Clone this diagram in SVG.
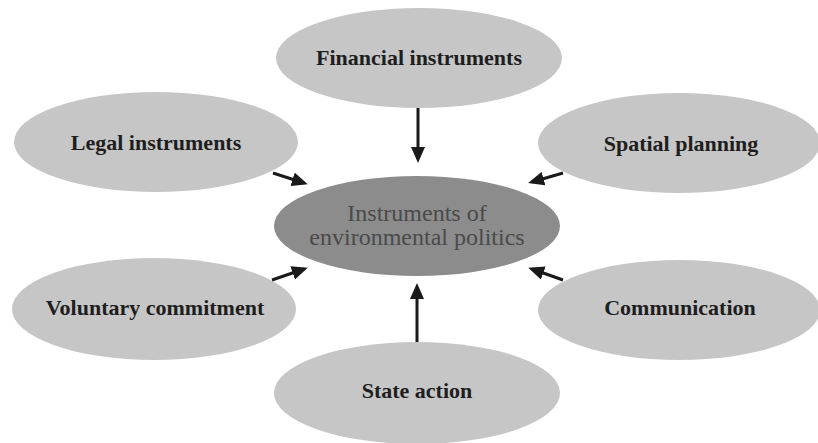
<svg xmlns="http://www.w3.org/2000/svg" width="818" height="443" viewBox="0 0 818 443">
  <style>
    .outer { fill: #c6c6c6; }
    .center { fill: #8c8c8c; }
    .lbl { font-family: "Liberation Serif", "Times New Roman", serif; font-size: 22px; font-weight: bold; fill: #1e1e1e; text-anchor: middle; }
    .clbl { font-family: "Liberation Serif", "Times New Roman", serif; font-size: 24px; fill: #4a4a4a; text-anchor: middle; }
    .conn { stroke: #1a1a1a; stroke-width: 3; fill: none; marker-end: url(#arr); }
  </style>
  <defs>
    <marker id="arr" markerUnits="userSpaceOnUse" markerWidth="16" markerHeight="14" refX="12" refY="7" orient="auto">
      <path d="M0,0 L16,7 L0,14 z" fill="#1a1a1a"/>
    </marker>
  </defs>
  <rect width="818" height="443" fill="#ffffff"/>

  <g id="financial">
    <ellipse class="outer" cx="419" cy="58" rx="143" ry="50"/>
    <text class="lbl" x="419" y="65">Financial instruments</text>
  </g>
  <g id="legal">
    <ellipse class="outer" cx="156" cy="142" rx="142" ry="50"/>
    <text class="lbl" x="156" y="150">Legal instruments</text>
  </g>
  <g id="spatial">
    <ellipse class="outer" cx="679" cy="143" rx="141" ry="50"/>
    <text class="lbl" x="681" y="151">Spatial planning</text>
  </g>
  <g id="center">
    <ellipse class="center" cx="417" cy="226" rx="143" ry="50"/>
    <text class="clbl" x="417" y="221">Instruments of</text>
    <text class="clbl" x="417" y="245">environmental politics</text>
  </g>
  <g id="voluntary">
    <ellipse class="outer" cx="154" cy="309" rx="142" ry="51"/>
    <text class="lbl" x="155" y="315">Voluntary commitment</text>
  </g>
  <g id="communication">
    <ellipse class="outer" cx="679" cy="310" rx="141" ry="50"/>
    <text class="lbl" x="680" y="315">Communication</text>
  </g>
  <g id="state">
    <ellipse class="outer" cx="417" cy="393" rx="143" ry="51"/>
    <text class="lbl" x="417" y="398">State action</text>
  </g>

  <g id="connectors">
    <path class="conn" d="M418,108 L418,159"/>
    <path class="conn" d="M417,342 L417,287"/>
    <path class="conn" d="M273,173 L304,183"/>
    <path class="conn" d="M563,173 L532,182"/>
    <path class="conn" d="M272,280 L304,269"/>
    <path class="conn" d="M563,280 L532,269"/>
  </g>
</svg>
